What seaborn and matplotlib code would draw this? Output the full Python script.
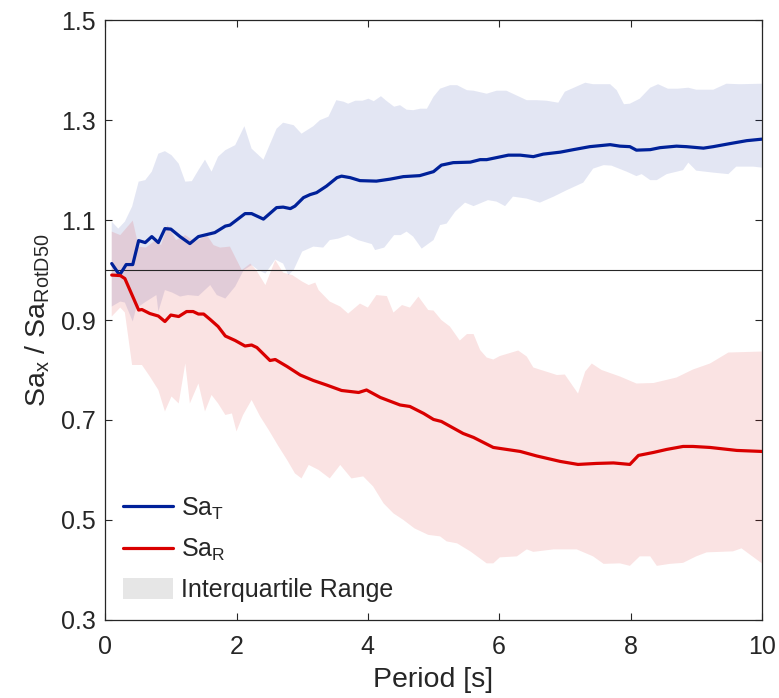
import numpy as np
import matplotlib
matplotlib.use("Agg")
import matplotlib.pyplot as plt
import seaborn as sns
from matplotlib.patches import Patch
from matplotlib.lines import Line2D

# ---------------- data ----------------
t_T = [0.1, 0.22, 0.32, 0.42, 0.51, 0.61, 0.71, 0.81, 0.91, 1.00, 1.14, 1.29, 1.42, 1.67, 1.83, 1.90,
       2.13, 2.23, 2.41, 2.61, 2.71, 2.82, 2.89, 3.02, 3.12, 3.22, 3.37, 3.53, 3.60, 3.73, 3.88, 4.13,
       4.34, 4.54, 4.79, 5.00, 5.12, 5.30, 5.56, 5.71, 5.81, 6.14, 6.32, 6.52, 6.67, 6.93, 7.13, 7.38,
       7.69, 7.84, 7.99, 8.09, 8.30, 8.45, 8.70, 8.85, 9.11, 9.26, 9.51, 9.77, 10.0]
sa_T = [1.013, 0.990, 1.011, 1.011, 1.059, 1.055, 1.067, 1.055, 1.083, 1.082, 1.067, 1.053, 1.067, 1.075,
        1.088, 1.090, 1.113, 1.113, 1.102, 1.125, 1.126, 1.123, 1.128, 1.145, 1.151, 1.155, 1.168, 1.185,
        1.188, 1.185, 1.179, 1.178, 1.182, 1.187, 1.189, 1.197, 1.210, 1.215, 1.216, 1.221, 1.221, 1.230,
        1.230, 1.227, 1.232, 1.236, 1.241, 1.247, 1.251, 1.248, 1.247, 1.240, 1.241, 1.245, 1.248, 1.247,
        1.244, 1.247, 1.253, 1.259, 1.262]

t_T_hi = [0.1, 0.20, 0.30, 0.41, 0.51, 0.61, 0.71, 0.81, 0.91, 1.01, 1.12, 1.22, 1.32, 1.42, 1.52, 1.62,
          1.72, 1.83, 1.98, 2.12, 2.23, 2.41, 2.61, 2.71, 2.87, 2.99, 3.17, 3.27, 3.40, 3.52, 3.63, 3.70,
          3.81, 3.92, 4.01, 4.09, 4.20, 4.28, 4.40, 4.49, 4.59, 4.69, 4.80, 4.90, 5.00, 5.10, 5.25, 5.36,
          5.51, 5.61, 5.81, 5.96, 6.11, 6.42, 6.57, 6.72, 6.90, 7.00, 7.31, 7.43, 7.69, 7.79, 7.90, 7.99,
          8.14, 8.30, 8.42, 8.57, 8.72, 8.88, 9.00, 9.26, 9.46, 9.67, 10.0]
sa_T_hi = [1.097, 1.083, 1.097, 1.127, 1.177, 1.180, 1.197, 1.233, 1.238, 1.230, 1.213, 1.177, 1.178, 1.200,
           1.221, 1.197, 1.227, 1.240, 1.250, 1.288, 1.243, 1.221, 1.283, 1.295, 1.290, 1.273, 1.288, 1.300,
           1.307, 1.340, 1.337, 1.333, 1.339, 1.339, 1.343, 1.338, 1.348, 1.339, 1.327, 1.330, 1.321, 1.320,
           1.323, 1.323, 1.347, 1.363, 1.370, 1.370, 1.360, 1.359, 1.353, 1.359, 1.359, 1.340, 1.340, 1.339,
           1.335, 1.357, 1.375, 1.372, 1.372, 1.360, 1.332, 1.333, 1.343, 1.365, 1.372, 1.363, 1.363, 1.365,
           1.361, 1.361, 1.373, 1.372, 1.373]

t_T_lo = [0.1, 0.23, 0.30, 0.42, 0.47, 0.60, 0.78, 0.81, 0.91, 1.02, 1.14, 1.26, 1.42, 1.60, 1.70, 1.83,
          1.98, 2.11, 2.23, 2.33, 2.44, 2.59, 2.71, 2.79, 2.87, 3.00, 3.17, 3.32, 3.42, 3.55, 3.70, 3.85,
          4.06, 4.11, 4.25, 4.40, 4.50, 4.59, 4.69, 4.82, 5.00, 5.10, 5.20, 5.33, 5.48, 5.61, 5.83, 5.96,
          6.09, 6.21, 6.42, 6.62, 6.83, 7.03, 7.28, 7.43, 7.59, 7.71, 7.94, 8.09, 8.17, 8.30, 8.40, 8.55,
          8.80, 8.88, 9.00, 9.26, 9.49, 9.61, 9.87, 10.0]
sa_T_lo = [0.927, 0.937, 0.935, 0.897, 0.923, 0.935, 0.950, 0.917, 0.960, 0.955, 0.947, 0.950, 0.948, 0.970,
           0.950, 0.943, 0.967, 1.000, 1.010, 1.000, 0.993, 1.021, 1.013, 0.990, 1.000, 1.037, 1.047, 1.045,
           1.060, 1.063, 1.070, 1.060, 1.052, 1.040, 1.045, 1.070, 1.070, 1.077, 1.067, 1.043, 1.060, 1.090,
           1.093, 1.117, 1.135, 1.128, 1.140, 1.137, 1.128, 1.147, 1.143, 1.135, 1.147, 1.160, 1.175, 1.203,
           1.210, 1.209, 1.197, 1.188, 1.192, 1.180, 1.180, 1.192, 1.200, 1.215, 1.199, 1.195, 1.192, 1.207,
           1.207, 1.205]

t_R = [0.1, 0.23, 0.30, 0.41, 0.51, 0.56, 0.68, 0.81, 0.91, 1.00, 1.12, 1.24, 1.34, 1.42, 1.50, 1.60,
       1.72, 1.83, 1.98, 2.13, 2.23, 2.31, 2.41, 2.51, 2.59, 2.77, 2.97, 3.17, 3.37, 3.60, 3.86, 3.98,
       4.19, 4.49, 4.64, 4.85, 5.00, 5.12, 5.45, 5.61, 5.91, 6.32, 6.57, 6.93, 7.20, 7.48, 7.74, 7.99,
       8.12, 8.35, 8.55, 8.80, 8.95, 9.21, 9.62, 10.0]
sa_R = [0.990, 0.989, 0.983, 0.950, 0.920, 0.921, 0.913, 0.908, 0.897, 0.910, 0.907, 0.917, 0.917, 0.912,
        0.912, 0.901, 0.887, 0.868, 0.859, 0.848, 0.850, 0.845, 0.832, 0.819, 0.821, 0.807, 0.790, 0.779,
        0.770, 0.759, 0.755, 0.760, 0.745, 0.730, 0.727, 0.713, 0.701, 0.697, 0.673, 0.665, 0.645, 0.637,
        0.628, 0.617, 0.611, 0.613, 0.614, 0.611, 0.629, 0.635, 0.641, 0.647, 0.647, 0.645, 0.639, 0.637]

t_R_hi = [0.1, 0.23, 0.42, 0.51, 0.62, 0.77, 0.85, 0.95, 1.08, 1.22, 1.37, 1.55, 1.65, 1.75, 1.90, 2.08,
          2.21, 2.30, 2.44, 2.59, 2.71, 2.85, 3.00, 3.10, 3.20, 3.25, 3.42, 3.58, 3.70, 3.88, 4.00, 4.13,
          4.29, 4.39, 4.52, 4.64, 4.77, 4.92, 5.00, 5.12, 5.25, 5.40, 5.51, 5.61, 5.71, 5.81, 5.91, 6.01,
          6.29, 6.42, 6.52, 6.88, 7.00, 7.20, 7.31, 7.41, 7.56, 7.84, 8.09, 8.35, 8.70, 8.95, 9.21, 9.49, 10.0]
sa_R_hi = [1.077, 1.070, 1.099, 1.047, 1.045, 1.060, 1.050, 1.090, 1.060, 1.070, 1.057, 1.070, 1.050, 1.045,
           1.047, 1.000, 1.013, 1.000, 0.970, 1.020, 0.995, 0.990, 0.977, 0.970, 0.975, 0.960, 0.937, 0.927,
           0.913, 0.933, 0.925, 0.950, 0.948, 0.915, 0.930, 0.925, 0.947, 0.920, 0.919, 0.900, 0.887, 0.859,
           0.872, 0.872, 0.840, 0.825, 0.821, 0.828, 0.839, 0.827, 0.805, 0.790, 0.791, 0.753, 0.797, 0.813,
           0.800, 0.787, 0.773, 0.774, 0.785, 0.801, 0.813, 0.835, 0.837]

t_R_lo = [0.1, 0.23, 0.30, 0.41, 0.56, 0.68, 0.81, 0.91, 1.01, 1.12, 1.22, 1.29, 1.42, 1.52, 1.62, 1.72,
          1.83, 1.93, 2.00, 2.10, 2.23, 2.36, 2.49, 2.64, 2.77, 2.89, 2.99, 3.10, 3.25, 3.42, 3.58, 3.75,
          3.93, 4.08, 4.24, 4.39, 4.54, 4.71, 4.92, 5.10, 5.20, 5.36, 5.56, 5.81, 5.91, 6.01, 6.27, 6.42,
          6.52, 6.83, 7.18, 7.43, 7.59, 7.84, 7.99, 8.14, 8.30, 8.40, 8.60, 8.80, 9.00, 9.16, 9.56, 9.69, 10.0]
sa_R_lo = [0.907, 0.925, 0.915, 0.810, 0.810, 0.787, 0.760, 0.717, 0.747, 0.733, 0.813, 0.733, 0.773, 0.717,
           0.750, 0.733, 0.710, 0.713, 0.677, 0.710, 0.740, 0.707, 0.680, 0.647, 0.620, 0.593, 0.583, 0.610,
           0.600, 0.583, 0.610, 0.583, 0.587, 0.567, 0.533, 0.513, 0.500, 0.483, 0.470, 0.467, 0.457, 0.453,
           0.437, 0.413, 0.413, 0.425, 0.427, 0.441, 0.436, 0.441, 0.441, 0.427, 0.412, 0.413, 0.408, 0.427,
           0.427, 0.408, 0.412, 0.414, 0.427, 0.435, 0.437, 0.443, 0.413]

x_ticks = [0, 2, 4, 6, 8, 10]
y_ticks = [0.3, 0.5, 0.7, 0.9, 1.1, 1.3, 1.5]
labels = [r'$\mathrm{Sa_T}$', r'$\mathrm{Sa_R}$', 'Interquartile Range']

# ---------------- style ----------------
sns.set_style("ticks")
plt.rcParams['font.family'] = ['Liberation Sans', 'DejaVu Sans']
plt.rcParams['mathtext.fontset'] = 'custom'
plt.rcParams['mathtext.rm'] = 'Liberation Sans'
plt.rcParams['mathtext.it'] = 'Liberation Sans:italic'
plt.rcParams['mathtext.bf'] = 'Liberation Sans:bold'

blue = (0.0, 0.13, 0.6)
red = (0.85, 0.0, 0.0)
fg = (0.15, 0.15, 0.15)

fig = plt.figure(figsize=(7.79, 6.98), dpi=100)
ax = fig.add_axes([0.135, 0.112, 0.843, 0.859])

def band(tu, vu, tl, vl, color):
    xs = np.concatenate([np.asarray(tu), np.asarray(tl)[::-1]])
    ys = np.concatenate([np.asarray(vu), np.asarray(vl)[::-1]])
    ax.fill(xs, ys, color=color, alpha=0.11, linewidth=0, zorder=1)

band(t_T_hi, sa_T_hi, t_T_lo, sa_T_lo, blue)
band(t_R_hi, sa_R_hi, t_R_lo, sa_R_lo, red)

ax.axhline(1.0, color=fg, linewidth=0.8, zorder=2)

sns.lineplot(x=t_T, y=sa_T, color=blue, linewidth=2.3, ax=ax, zorder=3, sort=False)
sns.lineplot(x=t_R, y=sa_R, color=red, linewidth=2.3, ax=ax, zorder=3, sort=False)

ax.set_xlim(0, 10)
ax.set_ylim(0.3, 1.5)
ax.set_xticks(x_ticks)
ax.set_xticklabels([str(v) for v in x_ticks])
ax.set_yticks(y_ticks)
ax.set_yticklabels([f"{v:.1f}" for v in y_ticks])
ax.tick_params(axis='both', direction='in', length=5, width=0.8, color=fg,
               labelsize=18, labelcolor=fg, top=True, right=True)
ax.tick_params(axis='x', pad=11)
ax.tick_params(axis='y', pad=7)
for s in ax.spines.values():
    s.set_visible(True)
    s.set_color(fg)
    s.set_linewidth(0.9)

ax.set_xlabel('Period [s]', fontsize=20.5, color=fg, labelpad=6)
ax.set_ylabel(r'$\mathrm{Sa_x\ /\ Sa_{RotD50}}$', fontsize=20.5, color=fg, labelpad=6)

handles = [Line2D([0], [0], color=blue, linewidth=2.3),
           Line2D([0], [0], color=red, linewidth=2.3),
           Patch(facecolor=(0.9, 0.9, 0.9), edgecolor='none')]
leg = ax.legend(handles, labels, loc='lower left', frameon=False, fontsize=18,
                handlelength=2.0, handleheight=0.9, handletextpad=0.35, labelspacing=0.6,
                borderaxespad=0.3, borderpad=0.4, bbox_to_anchor=(0.0, 0.0))

fig.savefig('out.png', dpi=100)
